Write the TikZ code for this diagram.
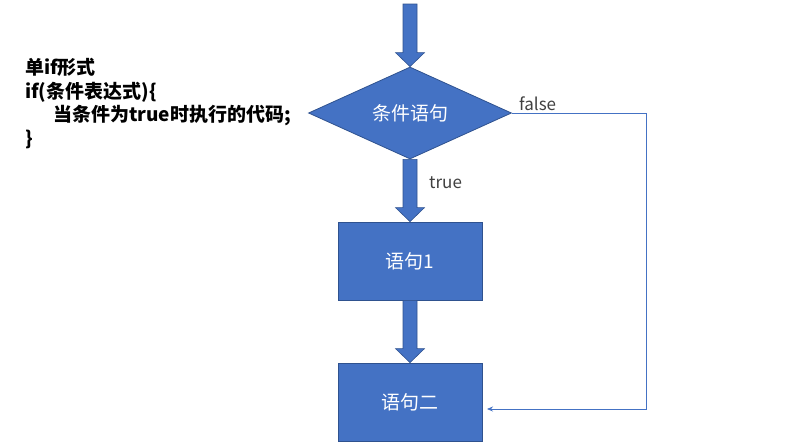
\documentclass[tikz,border=0pt]{standalone}
\usepackage{fontspec}
\newfontfamily\cjk{Noto Sans CJK SC}
\usetikzlibrary{shapes.geometric,arrows.meta,calc}
\definecolor{fillblue}{HTML}{4472C4}
\definecolor{edgeblue}{HTML}{2F528F}
\definecolor{labelgray}{HTML}{404040}
\newcommand\fatarrow[2]{%
  \path[fatarr] let \p1=(#1), \p2=(#2) in
    (\x1-7pt,\y1) -- (\x1+7pt,\y1) -- (\x1+7pt,\y2+14pt) -- (\x1+14.5pt,\y2+14pt)
    -- (\x2,\y2) -- (\x1-14.5pt,\y2+14pt) -- (\x1-7pt,\y2+14pt) -- cycle;}
\begin{document}
\begin{tikzpicture}[x=1pt,y=-1pt,
  blockshape/.style={fill=fillblue,draw=edgeblue,line width=0.8pt,text=white,
    font=\cjk\fontsize{19}{22}\selectfont,inner sep=0pt},
  decision/.style={blockshape,diamond,minimum width=203pt,minimum height=92pt,aspect=2.2},
  process/.style={blockshape,rectangle,minimum width=144pt,minimum height=78pt},
  fatarr/.style={fill=fillblue,draw=edgeblue,line width=0.6pt,line join=miter},
  flowline/.style={draw=fillblue,line width=0.8pt,-{Stealth[length=6pt,width=5pt]}},
  flowlabel/.style={text=labelgray,font=\cjk\fontsize{17}{20}\selectfont,inner sep=0pt}]
\useasboundingbox (0,0) rectangle (805,447);
\node[align=left,anchor=north west,inner sep=0pt,
  font=\cjk\bfseries\fontsize{19}{23.5}\selectfont] (code) at (25,58)
  {单if形式\\if(条件表达式)\{\\\hspace*{28pt}当条件为true时执行的代码;\\\}};
\coordinate (start) at (410,4);
\node[decision] (cond) at (410,113) {条件语句};
\node[process] (s1) at (410,261) {语句1};
\node[process] (s2) at (410,402) {语句二};
\fatarrow{start}{cond.north}
\fatarrow{cond.south}{s1.north}
\fatarrow{s1.south}{s2.north}
\coordinate (fc1) at (646,113);
\coordinate (fc2) at (646,409);
\coordinate (fend) at (487,409);
\draw[flowline] (cond.east) -- (fc1) -- (fc2) -- (fend);
\node[flowlabel,anchor=west] (lfalse) at (519,104) {false};
\node[flowlabel,anchor=west] (ltrue) at (429,183) {true};
\end{tikzpicture}
\end{document}
